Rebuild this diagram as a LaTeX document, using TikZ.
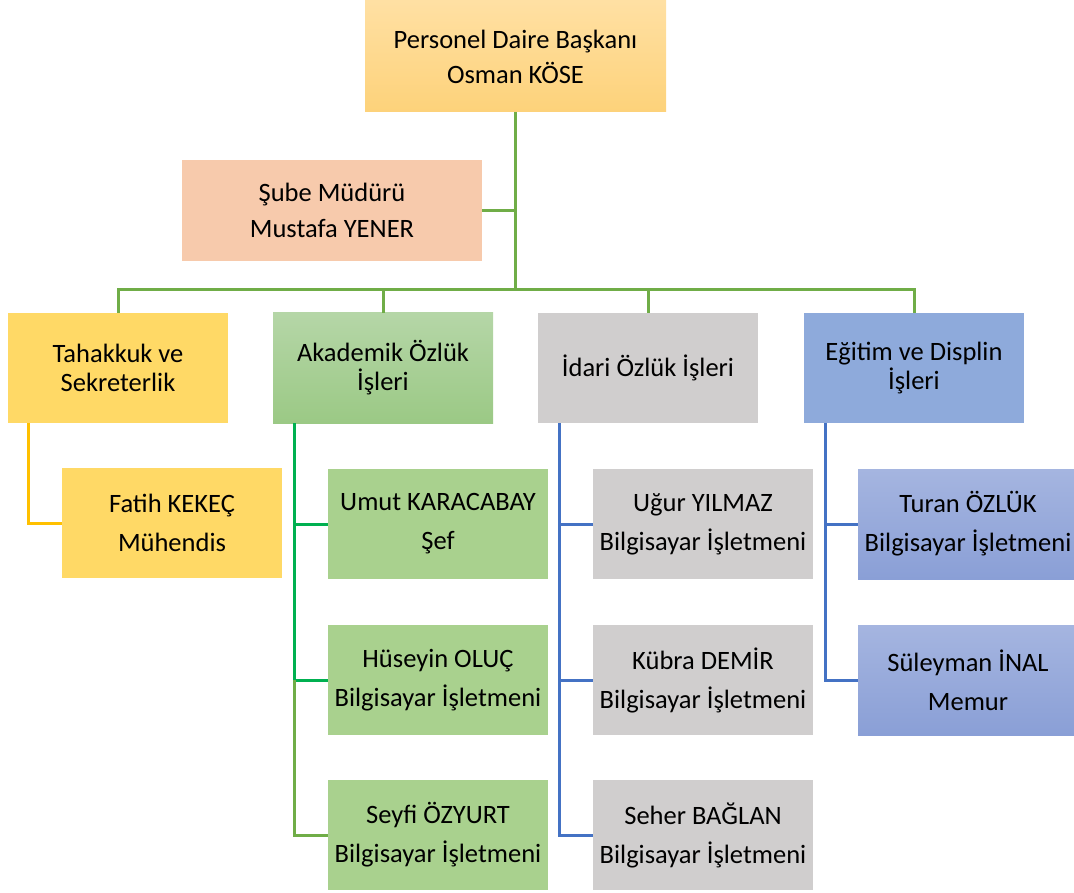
\documentclass[tikz,border=0pt]{standalone}
\usepackage{fontspec}
\setmainfont{Carlito}
\usepackage{tikz}

\definecolor{lineGreen}{HTML}{70AD47}
\definecolor{lineBright}{HTML}{00B050}
\definecolor{lineGold}{HTML}{FFC000}
\definecolor{lineBlue}{HTML}{4472C4}
\definecolor{peach}{HTML}{F7CAAC}
\definecolor{gold}{HTML}{FFD966}
\definecolor{leaf}{HTML}{A9D18E}
\definecolor{ash}{HTML}{D0CECE}
\definecolor{sky}{HTML}{8EAADB}

\begin{document}
\begin{tikzpicture}[x=1pt,y=-1pt,
    unit/.style={rectangle, minimum width=220pt, minimum height=110pt, inner sep=0pt, align=center,
                 font=\fontsize{26.5}{29}\selectfont},
    person/.style={rectangle, minimum width=220pt, minimum height=110pt, inner sep=0pt, align=center,
                 font=\fontsize{26.5}{39}\selectfont},
    link/.style={line width=3pt}]
            \useasboundingbox (0,0) rectangle (1074,893);

            % Head
            \node[person, minimum width=301pt, minimum height=111pt, top color={rgb,255:red,255;green,224;blue,163},
                  bottom color={rgb,255:red,253;green,210;blue,122}, font=\fontsize{26.5}{35}\selectfont]
                  (baskan) at (515.5,56.5) {Personel Daire Başkanı\\Osman KÖSE};
            \node[person, fill=peach, minimum width=300pt, minimum height=101pt, font=\fontsize{26.5}{36}\selectfont]
                  (sube) at (332,210.5) {Şube Müdürü\\Mustafa YENER};
            \coordinate (bus) at (515.5,290);

            % Units
            \node[unit, fill=gold] (tahakkuk) at (118,368) {Tahakkuk ve\\Sekreterlik};
            \node[unit, top color={rgb,255:red,181;green,214;blue,167},
                  bottom color={rgb,255:red,155;green,201;blue,133}] (akademik) at (383,368) {Akademik Özlük\\İşleri};
            \node[unit, fill=ash] (idari) at (648,368) {İdari Özlük İşleri};
            \node[unit, fill=sky] (egitim) at (914,368) {Eğitim ve Displin\\İşleri};

            % Staff
            \node[person, fill=gold] (fatih) at (172,523) {Fatih KEKEÇ\\Mühendis};
            \node[person, fill=leaf] (umut) at (438,524) {Umut KARACABAY\\Şef};
            \node[person, fill=leaf] (huseyin) at (438,680) {Hüseyin OLUÇ\\Bilgisayar İşletmeni};
            \node[person, fill=leaf] (seyfi) at (438,835) {Seyfi ÖZYURT\\Bilgisayar İşletmeni};
            \node[person, fill=ash] (ugur) at (703,524) {Uğur YILMAZ\\Bilgisayar İşletmeni};
            \node[person, fill=ash] (kubra) at (703,680) {Kübra DEMİR\\Bilgisayar İşletmeni};
            \node[person, fill=ash] (seher) at (703,835) {Seher BAĞLAN\\Bilgisayar İşletmeni};
            \node[person, top color={rgb,255:red,165;green,181;blue,224},
                  bottom color={rgb,255:red,138;green,159;blue,214}] (turan) at (968,524) {Turan ÖZLÜK\\Bilgisayar İşletmeni};
            \node[person, top color={rgb,255:red,165;green,181;blue,224},
                  bottom color={rgb,255:red,138;green,159;blue,214}] (suleyman) at (968,680) {Süleyman İNAL\\Memur};

            % Head links
            \draw[link, lineGreen] (baskan.south) -- (bus);
            \draw[link, lineGreen] (sube.east) -- (sube.east -| baskan.south);
            \draw[link, lineGreen] (bus) -| (tahakkuk.north);
            \draw[link, lineGreen] (bus) -| (akademik.north);
            \draw[link, lineGreen] (bus) -| (idari.north);
            \draw[link, lineGreen] (bus) -| (egitim.north);

            % Unit links
            \draw[link, lineGold] ([xshift=21pt]tahakkuk.south west) |- (fatih.west);
            \draw[link, lineBright] ([xshift=22pt]akademik.south west) |- (umut.west);
            \draw[link, lineBright] ([xshift=22pt]akademik.south west) |- (huseyin.west);
            \draw[link, lineGreen] ([xshift=22pt]akademik.south west |- huseyin.west) |- (seyfi.west);
            \draw[link, lineBlue] ([xshift=22pt]idari.south west) |- (ugur.west);
            \draw[link, lineBlue] ([xshift=22pt]idari.south west) |- (kubra.west);
            \draw[link, lineBlue] ([xshift=22pt]idari.south west) |- (seher.west);
            \draw[link, lineBlue] ([xshift=22pt]egitim.south west) |- (turan.west);
            \draw[link, lineBlue] ([xshift=22pt]egitim.south west) |- (suleyman.west);
\end{tikzpicture}
\end{document}
